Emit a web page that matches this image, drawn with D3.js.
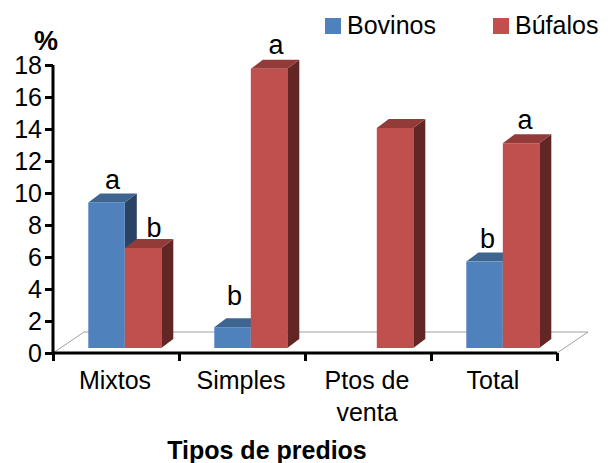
<!DOCTYPE html>
<html>
<head>
<meta charset="utf-8">
<script src="https://cdn.jsdelivr.net/npm/d3@7"></script>
<style>
body { margin: 0; background: #fff; }
text { font-family: "Liberation Sans", Arial, sans-serif; fill: #000; }
</style>
</head>
<body>
<div id="chart"></div>
<script>
const categories = ['Mixtos', 'Simples', 'Ptos de venta', 'Total']
const categoryLines = [['Mixtos'], ['Simples'], ['Ptos de', 'venta'], ['Total']]
const seriesNames = ['Bovinos', 'Búfalos']
const bovinos = [9.1, 1.3, null, 5.4]
const bufalos = [6.25, 17.45, 13.75, 12.8]
const bovinosLetters = ['a', 'b', '', 'b']
const bufalosLetters = ['b', 'a', '', 'a']
const yTicks = [0, 2, 4, 6, 8, 10, 12, 14, 16, 18]

const colors = {
	Bovinos: { front: '#4f81bd', top: '#3d6590', side: '#2a4365' },
	Búfalos: { front: '#c0504d', top: '#933b39', side: '#622725' }
}

const svg = d3.select('#chart')
	.append('svg')
	.attr('width', 608)
	.attr('height', 463)
	.style('display', 'block')

const y = d3.scaleLinear().domain([0, 18]).range([353, 65])
const x0 = d3.scaleBand().domain(categories).range([53, 557])
const x1 = d3.scaleBand().domain(seriesNames).range([35.3, 108.3])
const xEdges = d3.scaleLinear().domain([0, 4]).range([53, 557])

// bars stand a little behind the front edge of the floor
const baseShift = -5
const depthX = 12
const depthY = -9

// floor
const floorBack = 31
const floorUp = -21
svg.append('path')
	.attr('d', `M${xEdges(0)},${y(0)}L${xEdges(0) + floorBack},${y(0) + floorUp}L${xEdges(4) + floorBack},${y(0) + floorUp}L${xEdges(4)},${y(0)}`)
	.attr('fill', 'none')
	.attr('stroke', '#a0a0a0')
	.attr('stroke-width', 1)

const bars = []
categories.forEach((c, i) => {
	bars.push({ category: c, series: 'Bovinos', value: bovinos[i], letter: bovinosLetters[i] })
	bars.push({ category: c, series: 'Búfalos', value: bufalos[i], letter: bufalosLetters[i] })
})
const drawn = bars.filter(d => d.value !== null)

const bar = svg.selectAll('g.bar')
	.data(drawn)
	.enter()
	.append('g')
	.attr('class', 'bar')

const left = d => x0(d.category) + x1(d.series)
const right = d => left(d) + x1.bandwidth()
const topY = d => y(d.value) + baseShift
const baseY = y(0) + baseShift

bar.append('path')
	.attr('fill', d => colors[d.series].side)
	.attr('d', d => `M${right(d)},${topY(d)}L${right(d) + depthX},${topY(d) + depthY}L${right(d) + depthX},${baseY + depthY}L${right(d)},${baseY}Z`)

bar.append('path')
	.attr('fill', d => colors[d.series].top)
	.attr('d', d => `M${left(d)},${topY(d)}L${left(d) + depthX},${topY(d) + depthY}L${right(d) + depthX},${topY(d) + depthY}L${right(d)},${topY(d)}Z`)

bar.append('rect')
	.attr('fill', d => colors[d.series].front)
	.attr('x', d => left(d))
	.attr('y', d => topY(d))
	.attr('width', x1.bandwidth())
	.attr('height', d => baseY - topY(d))

// letters were hand placed on the original, so a few need a nudge
const nudge = {
	'Mixtos-Bovinos': [0, -1],
	'Mixtos-Búfalos': [5, 1],
	'Simples-Bovinos': [-4, -10],
	'Simples-Búfalos': [1, -3],
	'Total-Bovinos': [-3, -2],
	'Total-Búfalos': [-2, -2]
}
bar.filter(d => d.letter !== '')
	.append('text')
	.attr('x', d => (left(d) + right(d)) / 2 + 6 + (nudge[d.category + '-' + d.series] || [0, 0])[0])
	.attr('y', d => topY(d) - 12 + (nudge[d.category + '-' + d.series] || [0, 0])[1])
	.attr('text-anchor', 'middle')
	.style('font-size', '27px')
	.text(d => d.letter)

// axes
const yAxis = svg.append('g')
	.attr('transform', `translate(${xEdges(0)},0)`)
	.call(d3.axisLeft(y).tickValues(yTicks).tickSize(8).tickPadding(3))
yAxis.selectAll('path').attr('d', `M0,${y(18)}V${y(0)}`)

const xAxis = svg.append('g')
	.attr('transform', `translate(0,${y(0)})`)
	.call(d3.axisBottom(xEdges).ticks(4).tickSize(8).tickFormat(''))
xAxis.selectAll('.domain').attr('d', `M${xEdges(0)},0H${xEdges(4)}`)

svg.selectAll('.domain, .tick line')
	.attr('stroke', '#000')
	.attr('stroke-width', 3)
	.attr('fill', 'none')

yAxis.selectAll('text')
	.style('font-size', '25px')

// category labels
const catLabel = svg.selectAll('text.cat')
	.data(categories)
	.enter()
	.append('text')
	.attr('class', 'cat')
	.attr('text-anchor', 'middle')
	.attr('y', 389)
	.style('font-size', '25px')

catLabel.selectAll('tspan')
	.data((d, i) => categoryLines[i])
	.enter()
	.append('tspan')
	.attr('x', function () { return x0(this.parentNode.__data__) + x0.bandwidth() / 2 - 1 })
	.attr('dy', (d, i) => i === 0 ? 0 : 32)
	.text(d => d)

svg.append('text')
	.attr('x', 267)
	.attr('y', 459)
	.attr('text-anchor', 'middle')
	.style('font-size', '25px')
	.style('font-weight', 'bold')
	.text('Tipos de predios')

svg.append('text')
	.attr('x', 46)
	.attr('y', 50)
	.attr('text-anchor', 'middle')
	.style('font-size', '27px')
	.style('font-weight', 'bold')
	.text('%')

// legend
const legendX = d3.scaleOrdinal().domain(seriesNames).range([325, 493])
const legend = svg.selectAll('g.legend')
	.data(seriesNames)
	.enter()
	.append('g')
	.attr('class', 'legend')
	.attr('transform', d => `translate(${legendX(d)},18)`)
legend.append('rect')
	.attr('width', 16)
	.attr('height', 16)
	.attr('fill', d => colors[d].front)
legend.append('text')
	.attr('x', 22)
	.attr('y', 16)
	.style('font-size', '25px')
	.text(d => d)
</script>
</body>
</html>
